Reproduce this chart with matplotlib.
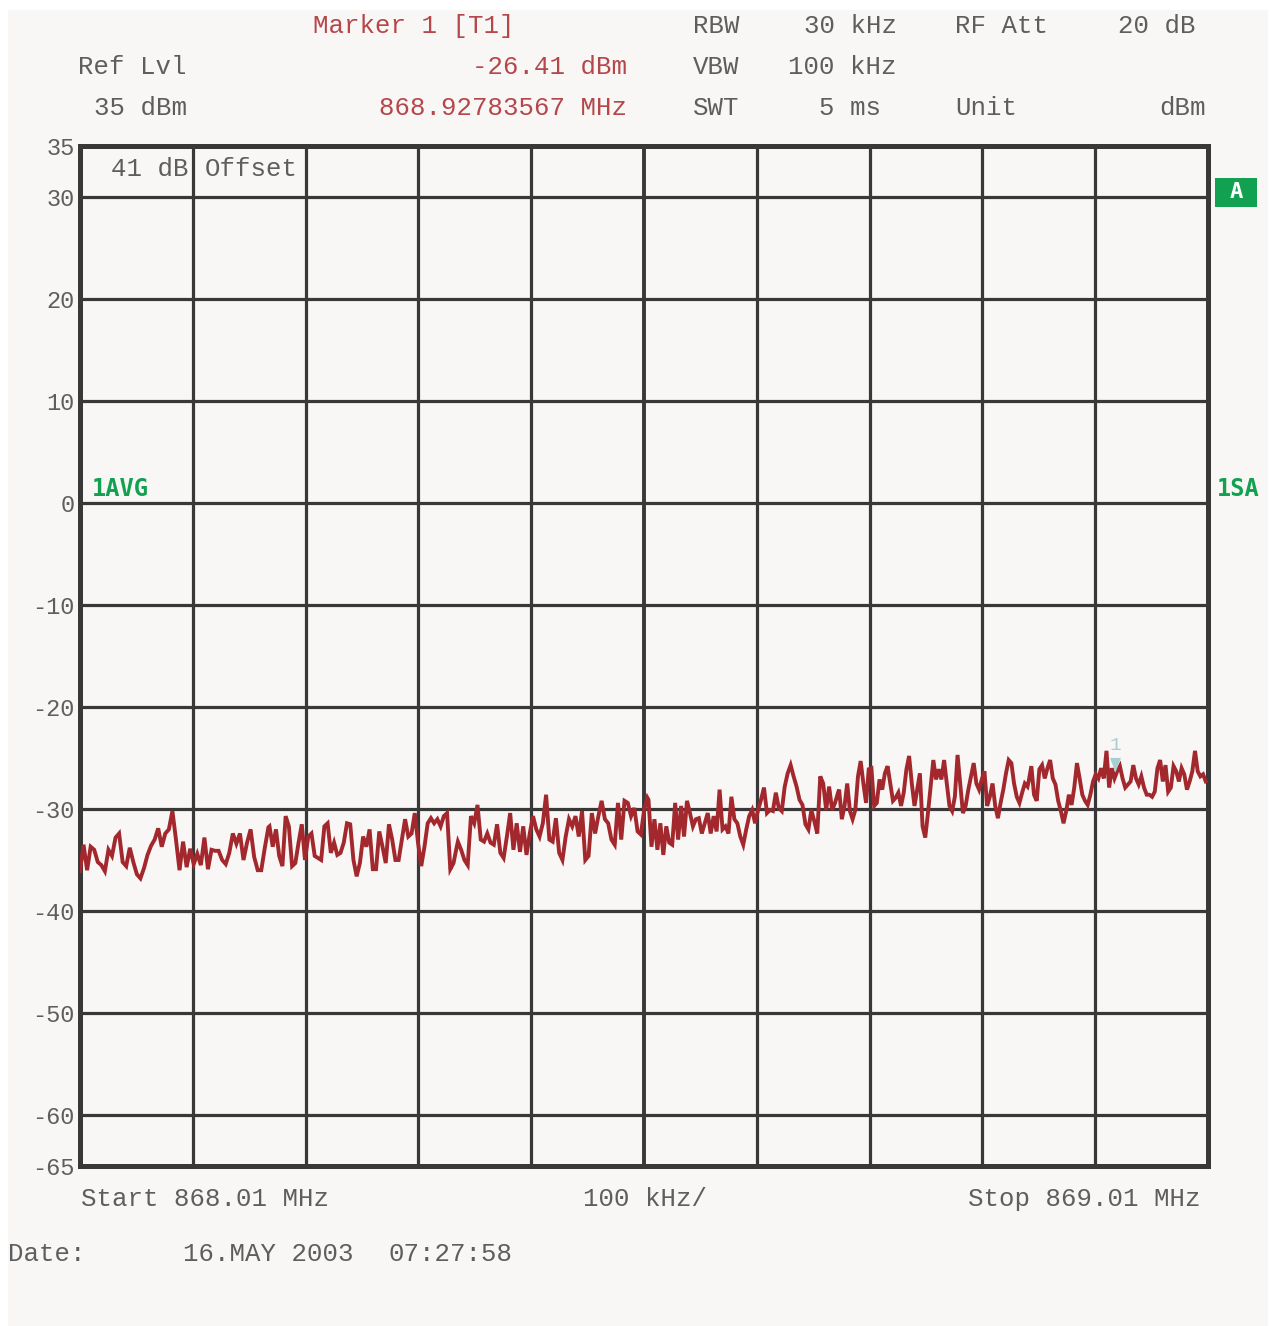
import numpy as np
import matplotlib
matplotlib.use("Agg")
import matplotlib.pyplot as plt
from matplotlib.patches import Rectangle

# ---------------- data ----------------
start_mhz = 868.01
stop_mhz = 869.01
ref_level = 35
bottom_level = -65
ytick_values = [35, 30, 20, 10, 0, -10, -20, -30, -40, -50, -60, -65]
grid_levels = [30, 20, 10, 0, -10, -20, -30, -40, -50, -60]

marker_freq = 868.92783567
marker_level = -26.41

# trace read in six consecutive frequency segments (MHz edges)
seg_edges = [(868.010, 868.177), (868.178, 868.344), (868.345, 868.513),
             (868.514, 868.682), (868.683, 868.850), (868.851, 869.008)]

trace_a = [-36.1, -33.5, -36.0, -33.7, -34.0, -35.2, -35.5, -36.1, -34.0, -34.6,
           -32.8, -32.4, -35.2, -35.6, -33.8, -35.2, -36.4, -36.8, -35.8, -34.5,
           -33.6, -33.0, -31.9, -33.7, -32.4, -32.0, -30.2, -33.0, -36.0, -33.2,
           -35.7, -33.9, -35.4, -34.4, -35.5, -32.8, -35.9, -34.0, -34.1, -34.1,
           -35.0, -35.4, -34.3, -32.4, -33.4, -32.4, -35.0, -33.3, -32.0, -34.7,
           -36.0, -36.0, -33.8, -31.8]
trace_b = [-31.7, -33.7, -32.0, -34.6, -35.6, -30.7, -31.7, -35.6, -35.3, -33.3,
           -31.5, -35.0, -32.7, -32.4, -34.6, -34.8, -35.0, -31.7, -31.4, -34.3,
           -33.3, -34.5, -34.3, -33.3, -31.4, -31.5, -35.0, -36.6, -35.3, -32.7,
           -33.7, -32.0, -35.9, -35.9, -32.2, -33.7, -35.3, -31.5, -33.0, -35.0,
           -35.0, -33.0, -31.0, -32.7, -32.4, -30.4, -33.3, -35.6, -33.7, -31.4,
           -30.9, -31.4, -31.0, -31.7, -30.7, -30.4, -35.9, -35.3, -33.7]
trace_c = [-33.2, -34.0, -35.0, -35.5, -30.7, -31.4, -29.6, -33.0, -33.2, -32.4,
           -33.3, -33.5, -31.5, -34.3, -34.8, -32.7, -30.4, -34.0, -31.4, -34.2,
           -31.7, -34.5, -32.4, -30.7, -32.0, -32.7, -31.4, -28.6, -33.0, -33.2,
           -30.9, -34.3, -35.0, -32.7, -31.0, -31.7, -30.7, -32.7, -30.2, -35.0,
           -34.6, -30.4, -32.4, -30.7, -29.2, -31.0, -31.4, -33.0, -33.5, -29.4,
           -33.0, -29.2, -29.4, -30.7, -29.9, -32.2, -32.5, -30.1, -28.9]
trace_d = [-29.1, -33.7, -31.0, -34.0, -31.4, -34.5, -31.7, -33.3, -33.5, -29.4,
           -33.0, -29.7, -32.7, -29.2, -30.4, -31.7, -31.0, -30.9, -32.4, -31.4,
           -30.4, -32.4, -30.7, -32.2, -28.1, -32.0, -31.7, -32.4, -28.8, -31.0,
           -31.4, -32.7, -33.5, -32.0, -30.7, -30.1, -31.4, -30.1, -29.1, -27.9,
           -30.4, -30.1, -30.2, -28.4, -29.9, -30.2, -27.8, -26.5, -25.7, -26.8,
           -27.8, -29.1, -29.6, -31.5, -32.0, -30.1, -31.2, -32.4, -26.8, -27.5,
           -30.1, -27.8, -30.1, -29.4, -28.4]
trace_e = [-28.1, -31.0, -29.7, -27.5, -30.2, -31.0, -30.1, -26.8, -25.3, -27.5,
           -29.4, -26.1, -26.0, -29.7, -29.4, -27.1, -28.1, -26.5, -25.8, -27.5,
           -29.2, -28.9, -28.4, -29.7, -28.4, -26.1, -24.8, -27.5, -29.7, -28.1,
           -26.5, -31.7, -32.8, -30.4, -27.8, -25.2, -27.1, -26.1, -27.1, -25.2,
           -27.5, -29.7, -30.2, -28.8, -24.7, -27.5, -30.4, -29.7, -28.1, -26.8,
           -25.5, -27.5, -28.1, -27.1, -26.3, -29.7, -28.8, -27.5, -29.7, -30.9,
           -29.4, -28.1, -26.5, -25.2, -25.5, -27.5, -28.8, -29.4, -28.4, -27.5,
           -27.8]
trace_f = [-27.3, -25.8, -28.6, -29.2, -26.1, -25.7, -27.0, -26.0, -25.2, -27.0,
           -27.6, -29.2, -30.2, -31.4, -30.2, -28.6, -29.6, -27.9, -25.5, -27.0,
           -28.6, -29.2, -29.6, -28.6, -27.3, -26.6, -27.0, -26.0, -27.0, -24.3,
           -27.9, -26.0, -27.0, -26.3, -25.8, -27.0, -27.9, -27.6, -27.3, -25.7,
           -27.0, -27.6, -26.8, -27.9, -28.6, -28.6, -28.8, -28.3, -26.0, -25.2,
           -27.3, -25.7, -28.3, -27.9, -25.8, -26.3, -27.3, -26.0, -26.6, -28.1,
           -27.3, -26.3, -24.3, -26.3, -26.8, -26.6, -27.3]

segments = [trace_a, trace_b, trace_c, trace_d, trace_e, trace_f]
freqs = np.concatenate([np.linspace(a, b, len(s)) for (a, b), s in zip(seg_edges, segments)])
levels = np.concatenate([np.array(s) for s in segments])

# ---------------- styling ----------------
W, H = 1270, 1326
BG = '#f8f7f5'
TXT = '#5e5e5e'
RED = '#b5474b'
TRACE = '#a3282e'
GRID = '#383838'
GREEN = '#12a150'
MONO = ['Liberation Mono', 'DejaVu Sans Mono']

def fx(x):
    return x / W

def fy(y):
    return 1 - y / H

fig = plt.figure(figsize=(W / 100, H / 100), dpi=100)
fig.patch.set_facecolor('white')
fig.add_artist(Rectangle((fx(8), 0), fx(1268) - fx(8), fy(10), transform=fig.transFigure,
                         facecolor=BG, edgecolor='none', zorder=-10))

ax = fig.add_axes([fx(80), fy(1166), fx(1208) - fx(80), fy(146) - fy(1166)])
ax.set_facecolor(BG)
ax.set_xlim(start_mhz, stop_mhz)
ax.set_ylim(bottom_level, ref_level)

# grid
for g in grid_levels:
    ax.axhline(g, color=GRID, lw=2.3, zorder=1)
for k in range(1, 10):
    ax.axvline(start_mhz + k * (stop_mhz - start_mhz) / 10, color=GRID,
               lw=2.8 if k == 5 else 2.3, zorder=1)
for sp in ax.spines.values():
    sp.set_color(GRID)
    sp.set_linewidth(3.6)

ax.set_xticks([])
ax.set_yticks(ytick_values)
ax.set_yticklabels([str(v) for v in ytick_values], fontfamily=MONO, fontsize=17, color=TXT)
ax.tick_params(axis='y', length=0, pad=4)

# trace
ax.plot(freqs, levels, color=TRACE, lw=2.8, zorder=3, solid_joinstyle='miter')

# marker
tri = [(-0.45, 1.2), (0.45, 1.2), (0.0, 0.0)]
ax.plot([marker_freq], [marker_level], marker=tri, markersize=21, color='#a9ced2',
        markeredgecolor='none', linestyle='none', zorder=4)
ax.annotate('1', (marker_freq, marker_level), xytext=(0, 19), textcoords='offset points',
            ha='center', va='center', fontsize=14, color='#a9ced2', fontfamily=MONO, zorder=4)

# header texts
hs = 18.5
def t(x, y, s, color=TXT, ha='left', size=hs, **kw):
    fig.text(fx(x), fy(y), s, color=color, ha=ha, va='center', fontsize=size,
             fontfamily=kw.pop('family', MONO), **kw)

t(313, 26, 'Marker 1 [T1]', RED)
t(627, 67, '-26.41 dBm', RED, ha='right')
t(627, 108, '868.92783567 MHz', RED, ha='right')
t(78, 67, 'Ref Lvl')
t(94, 108, '35 dBm')
t(693, 26, 'RBW')
t(897, 26, '30 kHz', ha='right')
t(955, 26, 'RF Att')
t(1195, 26, '20 dB', ha='right')
t(693, 67, 'VBW')
t(897, 67, '100 kHz', ha='right')
t(693, 108, 'SWT')
t(881, 108, '5 ms', ha='right')
t(955, 108, 'Unit')
t(1206, 108, 'dBm', ha='right')

t(111, 169, '41 dB')
t(205, 169, 'Offset')

t(81, 1199, 'Start 868.01 MHz')
t(583, 1199, '100 kHz/')
t(1200, 1199, 'Stop 869.01 MHz', ha='right')
t(8, 1254, 'Date:')
t(183, 1254, '16.MAY 2003')
t(388, 1254, '07:27:58')

# green labels
t(92, 489, '1AVG', GREEN, size=17, fontweight='bold', family='DejaVu Sans Mono')
t(1217, 489, '1SA', GREEN, size=17, fontweight='bold', family='DejaVu Sans Mono')
fig.add_artist(Rectangle((fx(1215), fy(207)), fx(1257) - fx(1215), fy(178) - fy(207),
                         transform=fig.transFigure, facecolor=GREEN, edgecolor='none'))
fig.text(fx(1236), fy(192), 'A', color='white', ha='center', va='center', fontsize=16,
         fontweight='bold', fontfamily='DejaVu Sans Mono')

fig.savefig('out.png', dpi=100, facecolor=fig.get_facecolor())
